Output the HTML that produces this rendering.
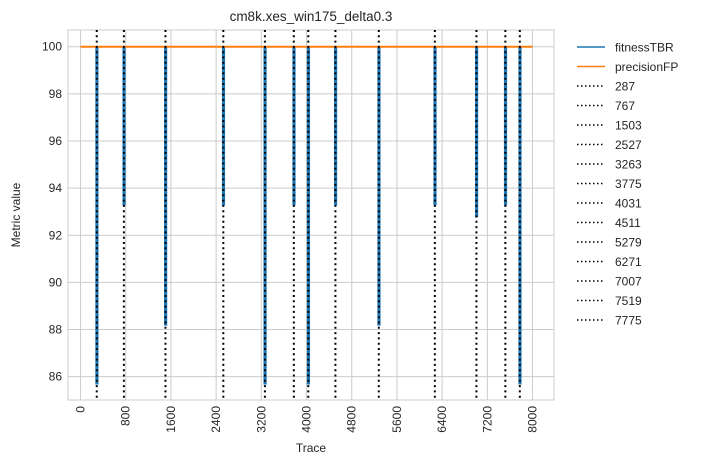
<!DOCTYPE html>
<html><head><meta charset="utf-8"><style>
body{margin:0;background:#fff;font-family:"Liberation Sans","DejaVu Sans",sans-serif;}
svg text{font-family:"Liberation Sans","DejaVu Sans",sans-serif;fill:#262626;}
</style></head><body>
<svg id="c" width="703" height="465" xmlns="http://www.w3.org/2000/svg"></svg>
<script>
const drifts=[287,767,1503,2527,3263,3775,4031,4511,5279,6271,7007,7519,7775];
const fitnessMin=[85.7,93.3,88.2,93.3,85.7,93.3,85.7,93.3,88.2,93.3,92.8,93.3,85.7];
const precisionVal=100;
const xTicks=[0,800,1600,2400,3200,4000,4800,5600,6400,7200,8000];
const yTicks=[86,88,90,92,94,96,98,100];
const xStart=0,xEnd=8000;
const L=68,R=554,T=30,B=400;
const X0=-222,X1=8380,Y0=85.01,Y1=100.71;
function sx(v){return L+(v-X0)/(X1-X0)*(R-L);}
function sy(v){return B-(v-Y0)/(Y1-Y0)*(B-T);}
const svg=document.getElementById('c');const NS='http://www.w3.org/2000/svg';
function mk(t,a,p){const e=document.createElementNS(NS,t);for(const k in a)e.setAttribute(k,a[k]);(p||svg).appendChild(e);return e;}
let e;
e=mk('rect',{x:L,y:T,width:R-L,height:B-T,fill:'#fff',stroke:'#ccc','stroke-width':1});

xTicks.forEach(v=>{const x=sx(v);
e=mk('line',{x1:x,x2:x,y1:T,y2:B,stroke:'#ccc','stroke-width':1});

e=mk('text',{x:0,y:0,'font-size':12,'text-anchor':'end',transform:`translate(${x+4},${B+6}) rotate(-90)`});e.textContent=v;
});
yTicks.forEach(v=>{const y=sy(v);
e=mk('line',{x1:L,x2:R,y1:y,y2:y,stroke:'#ccc','stroke-width':1});

e=mk('text',{x:L-6,y:y+4,'font-size':12,'text-anchor':'end'});e.textContent=v;
});
let d=`M${sx(xStart)},${sy(100)}`;
drifts.forEach((p,i)=>{d+=` L${sx(p-12)},${sy(100)} L${sx(p-12)},${sy(fitnessMin[i])} L${sx(p+18)},${sy(fitnessMin[i])} L${sx(p+18)},${sy(100)}`;});
d+=` L${sx(xEnd)},${sy(100)}`;
e=mk('path',{d:d,fill:'none',stroke:'#1f77b4','stroke-width':1.5});

drifts.forEach((p,i)=>{e=mk('rect',{x:sx(p-12),y:sy(100),width:sx(p+18)-sx(p-12),height:sy(fitnessMin[i])-sy(100),fill:'#1f77b4'});
});
e=mk('line',{x1:sx(xStart),x2:sx(xEnd),y1:sy(precisionVal),y2:sy(precisionVal),stroke:'#ff7f0e','stroke-width':2});

drifts.forEach(p=>{e=mk('line',{x1:sx(p),x2:sx(p),y1:T,y2:B,stroke:'#000','stroke-width':2,'stroke-dasharray':'2,3.3'});
});
e=mk('text',{x:(L+R)/2,y:21,'font-size':13.5,'text-anchor':'middle'});e.textContent='cm8k.xes_win175_delta0.3';

e=mk('text',{x:(L+R)/2,y:452,'font-size':12,'text-anchor':'middle'});e.textContent='Trace';

e=mk('text',{x:0,y:0,'font-size':12,'text-anchor':'middle',transform:`translate(20,${(T+B)/2}) rotate(-90)`});e.textContent='Metric value';

const labels=['fitnessTBR','precisionFP'].concat(drifts.map(String));
labels.forEach((t,i)=>{const y=47+i*19.5;let ln;
if(i==0)ln=mk('line',{x1:577,x2:605,y1:y,y2:y,stroke:'#1f77b4','stroke-width':1.5});
else if(i==1)ln=mk('line',{x1:577,x2:605,y1:y,y2:y,stroke:'#ff7f0e','stroke-width':1.5});
else ln=mk('line',{x1:577,x2:605,y1:y,y2:y,stroke:'#000','stroke-width':1.5,'stroke-dasharray':'1.5,2.5'});

e=mk('text',{x:615,y:y+4.5,'font-size':12});e.textContent=t;
});
</script>
</body></html>
